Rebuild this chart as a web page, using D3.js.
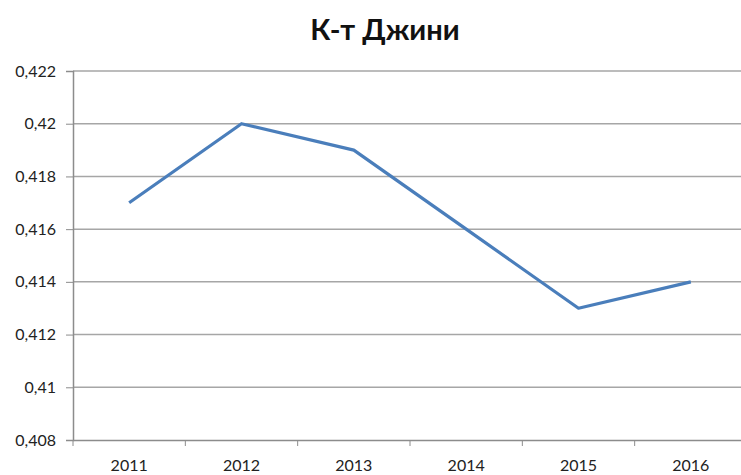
<!DOCTYPE html>
<html><head><meta charset="utf-8">
<script src="https://cdn.jsdelivr.net/npm/d3@7"></script>
<style>body{margin:0;background:#fff;} svg{display:block;}</style>
</head><body>
<svg id="c" width="741" height="475"></svg>
<script>
const title = "К-т Джини";
const years = ["2011","2012","2013","2014","2015","2016"];
const gini = [0.417, 0.420, 0.419, 0.416, 0.413, 0.414];
const yTicks = [0.408,0.410,0.412,0.414,0.416,0.418,0.420,0.422];

const svg = d3.select("#c");
const font = "Lato, 'Open Sans', sans-serif";
const L = 73, R = 747, T = 71, B = 440;
const x = d3.scaleBand().domain(years).range([L, R]);
const y = d3.scaleLinear().domain([0.408, 0.422]).range([B, T]);
const fmt = v => d3.format(".3~f")(v).replace(".", ",");

svg.append("text").attr("x", 385).attr("y", 40).attr("text-anchor","middle")
  .attr("font-family", font).attr("font-weight","bold").attr("font-size", 29)
  .attr("fill","#111").text(title);

// gridlines
svg.append("g").selectAll("line").data(yTicks.slice(1)).join("line")
  .attr("x1", L).attr("x2", R).attr("y1", d=>y(d)).attr("y2", d=>y(d))
  .attr("stroke","#a6a6a6").attr("stroke-width",1.5);

// y axis
const ya = svg.append("g").attr("transform",`translate(${L},0)`)
  .call(d3.axisLeft(y).tickValues(yTicks).tickFormat(fmt).tickSize(7).tickPadding(10));
ya.select(".domain").attr("stroke","#8c8c8c").attr("stroke-width",1.5);
ya.selectAll(".tick line").attr("stroke","#8c8c8c");
ya.selectAll("text").attr("font-family", font).attr("font-size",16).attr("fill","#222");

// x axis
const xa = svg.append("g").attr("transform",`translate(0,${B})`)
  .call(d3.axisBottom(x).tickSize(0).tickPadding(20));
xa.select(".domain").attr("stroke","#8c8c8c").attr("stroke-width",1.5);
xa.selectAll("text").attr("font-family", font).attr("font-size",16).attr("fill","#222");
svg.append("g").selectAll("line").data(years).join("line")
  .attr("x1", d=>x(d)).attr("x2", d=>x(d)).attr("y1", B).attr("y2", B+6)
  .attr("stroke","#8c8c8c");

// line
const line = d3.line().x((d,i)=>x(years[i])+x.bandwidth()/2).y(d=>y(d));
svg.append("path").datum(gini).attr("d", line).attr("fill","none")
  .attr("stroke","#4a7ebb").attr("stroke-width",3.2).attr("stroke-linejoin","round");
</script>
</body></html>
